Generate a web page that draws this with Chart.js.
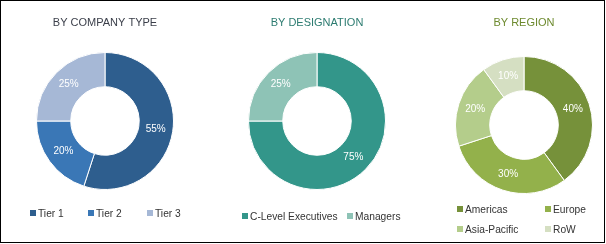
<!DOCTYPE html>
<html>
<head>
<meta charset="utf-8">
<script src="https://cdn.jsdelivr.net/npm/chart.js@4.4.1/dist/chart.umd.min.js"></script>
<style>
  html, body { margin: 0; padding: 0; background: #fff; overflow: hidden; }
  #wrap { position: relative; width: 606px; height: 244px; }
  #frame { position: absolute; left: 0; top: 0; width: 605px; height: 243px; box-sizing: border-box; border: 1px solid #000; pointer-events: none; }
  canvas { position: absolute; top: 0; }
</style>
</head>
<body>
<div id="wrap">
  <canvas id="companyChart" style="left:0px" width="210" height="244"></canvas>
  <canvas id="designationChart" style="left:212px" width="210" height="244"></canvas>
  <canvas id="regionChart" style="left:444px" width="160" height="244"></canvas>
  <div id="frame"></div>
</div>
<script>
// data
const companyTypes = ['Tier 1', 'Tier 2', 'Tier 3'];
const companyShares = [55, 20, 25];
const companyColors = ['#2e5e8e', '#3a77b6', '#a6b8d6'];

const designations = ['C-Level Executives', 'Managers'];
const designationShares = [75, 25];
const designationColors = ['#33968a', '#8ec3b6'];

const regions = ['Americas', 'Europe', 'Asia-Pacific', 'RoW'];
const regionShares = [40, 30, 20, 10];
const regionColors = ['#76913a', '#93b14b', '#b4cd8b', '#d5dfc2'];

const FONT = "'Liberation Sans', Arial, sans-serif";

// percent labels in the middle of each ring slice
const sliceLabels = {
    id: 'sliceLabels',
    afterDatasetsDraw(chart) {
        const ctx = chart.ctx;
        const ds = chart.data.datasets[0];
        ctx.save();
        ctx.font = '10px ' + FONT;
        ctx.fillStyle = '#fff';
        ctx.textAlign = 'center';
        ctx.textBaseline = 'middle';
        chart.getDatasetMeta(0).data.forEach((arc, i) => {
            const p = arc.tooltipPosition();
            ctx.fillText(ds.data[i] + '%', p.x, p.y);
        });
        ctx.restore();
    }
};

// legend laid out on a small grid under the ring (text a bit condensed, like the original)
const gridLegend = {
    id: 'gridLegend',
    afterDraw(chart, args, opts) {
        const ctx = chart.ctx;
        const colors = chart.data.datasets[0].backgroundColor;
        ctx.save();
        ctx.font = '11px ' + FONT;
        ctx.textBaseline = 'middle';
        chart.data.labels.forEach((label, i) => {
            const col = i % opts.cols;
            const row = Math.floor(i / opts.cols);
            const x = opts.x[col];
            const y = opts.y + row * opts.rowGap;
            ctx.fillStyle = colors[i];
            ctx.fillRect(x, y - 3, 6, 6);
            ctx.save();
            ctx.translate(x + 8, y + 0.5);
            ctx.scale(0.93, 1);
            ctx.fillStyle = '#333';
            ctx.fillText(label, 0, 0);
            ctx.restore();
        });
        ctx.restore();
    }
};

function ringChart(id, title, titleColor, labels, values, colors, topPad, bottomPad, legendOpts) {
    const ctx = document.getElementById(id).getContext('2d');
    return new Chart(ctx, {
        type: 'doughnut',
        data: {
            labels: labels,
            datasets: [{
                data: values,
                backgroundColor: colors,
                borderColor: '#fff',
                borderWidth: 1,
            }],
        },
        options: {
            responsive: false,
            animation: false,
            cutout: '50%',
            layout: { padding: { bottom: bottomPad } },
            plugins: {
                legend: { display: false },
                tooltip: { enabled: false },
                title: {
                    display: true,
                    text: title,
                    color: titleColor,
                    font: { family: FONT, size: 11, weight: 'normal' },
                    padding: { top: 16, bottom: topPad },
                },
                gridLegend: legendOpts,
            },
        },
        plugins: [sliceLabels, gridLegend],
    });
}

ringChart('companyChart', 'BY COMPANY TYPE', '#3b3f4a', companyTypes, companyShares, companyColors,
    22.8, 54, { cols: 3, x: [30, 88, 147], y: 213, rowGap: 20 });
ringChart('designationChart', 'BY DESIGNATION', '#2c7b70', designations, designationShares, designationColors,
    22.8, 54, { cols: 2, x: [30, 135], y: 216, rowGap: 20 });
ringChart('regionChart', 'BY REGION', '#6d8a2e', regions, regionShares, regionColors,
    26.8, 50, { cols: 2, x: [13, 101], y: 209, rowGap: 20 });
</script>
</body>
</html>
